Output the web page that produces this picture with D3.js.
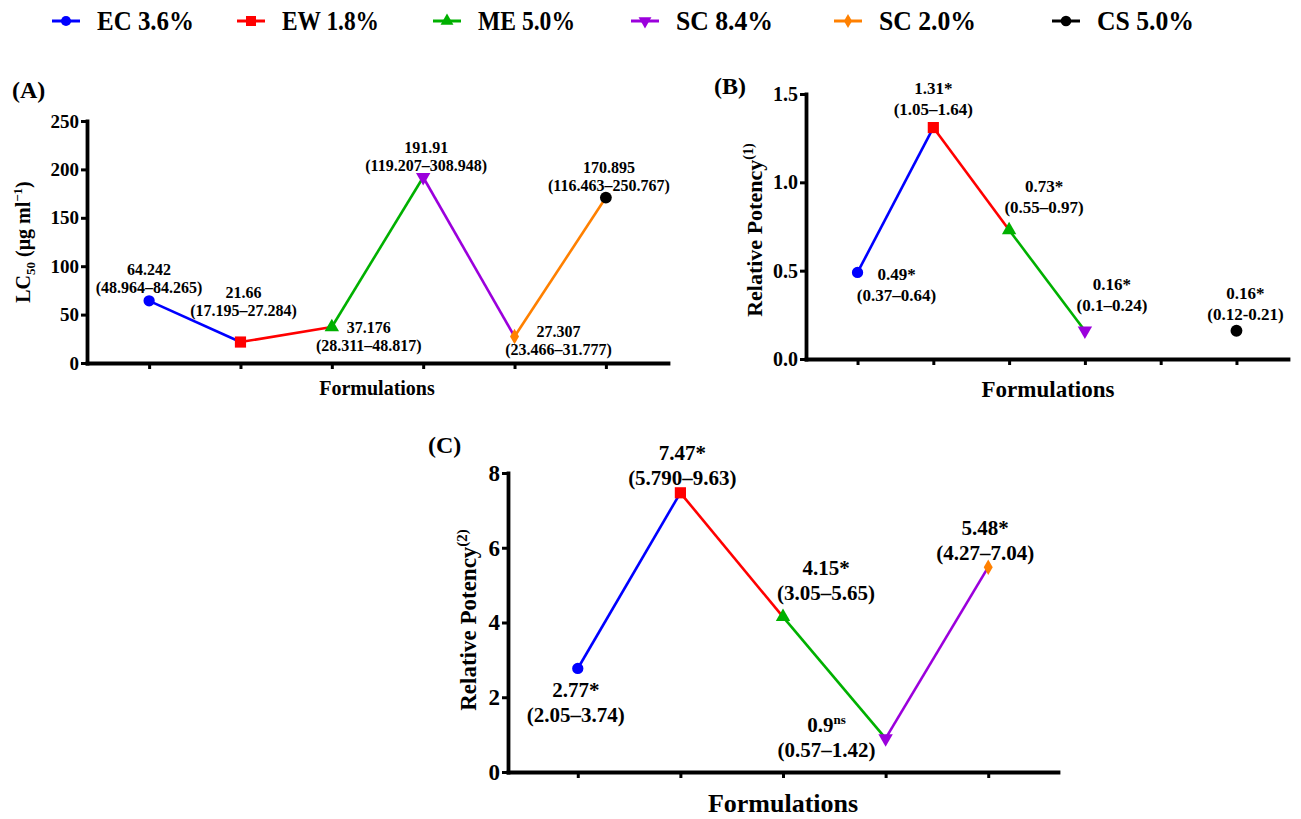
<!DOCTYPE html>
<html lang="en">
  <head>
    <meta charset="UTF-8" />
    <title>LC50 and relative potency</title>
    <style>
      body { margin: 0; background: #fff; }
      svg { display: block; }
      text { font-family: "Liberation Serif", "Times New Roman", "DejaVu Serif", serif; font-weight: bold; fill: #000; }
    </style>
  </head>
  <body>
    <svg id="chart" width="1301" height="819"></svg>

    <script src="https://d3js.org/d3.v7.min.js"></script>
    <script>
      // formulations and series colours
      const formulations = ["EC 3.6%", "EW 1.8%", "ME 5.0%", "SC 8.4%", "SC 2.0%", "CS 5.0%"];
      const colors = ["#0000ff", "#ff0000", "#00b000", "#9b00dc", "#ff8000", "#000000"];

      // (A) LC50
      const lc50 = [64.242, 21.66, 37.176, 191.91, 27.307, 170.895];
      const lc50CI = ["(48.964–84.265)", "(17.195–27.284)", "(28.311–48.817)", "(119.207–308.948)", "(23.466–31.777)", "(116.463–250.767)"];
      const lc50Ticks = [0, 50, 100, 150, 200, 250];

      // (B) relative potency (1) -- no value for SC 2.0%
      const rp1 = [0.49, 1.31, 0.73, 0.16, null, 0.16];
      const rp1Sig = ["*", "*", "*", "*", null, "*"];
      const rp1CI = ["(0.37–0.64)", "(1.05–1.64)", "(0.55–0.97)", "(0.1–0.24)", null, "(0.12-0.21)"];
      const rp1Ticks = [0, 0.5, 1.0, 1.5];

      // (C) relative potency (2) -- first five formulations
      const rp2 = [2.77, 7.47, 4.15, 0.9, 5.48];
      const rp2Sig = ["*", "*", "*", "ns", "*"];
      const rp2CI = ["(2.05–3.74)", "(5.790–9.63)", "(3.05–5.65)", "(0.57–1.42)", "(4.27–7.04)"];
      const rp2Ticks = [0, 2, 4, 6, 8];

      const symbols = [
        { type: d3.symbolCircle, size: 100, rot: 0 },
        { type: d3.symbolSquare, size: 125, rot: 0 },
        { type: d3.symbolTriangle, size: 90, rot: 0 },
        { type: d3.symbolTriangle, size: 90, rot: 180 },
        { type: d3.symbolDiamond, size: 70, rot: 0 },
        { type: d3.symbolCircle, size: 110, rot: 0 }
      ];

      const svg = d3.select("#chart");

      // legend
      const legendX = [66, 251, 447, 645, 848, 1066];
      const legend = svg.append("g");
      formulations.forEach((f, i) => {
        const g = legend.append("g").attr("transform", `translate(${legendX[i]},21)`);
        g.append("line").attr("x1", -14).attr("x2", 14)
          .attr("stroke", colors[i]).attr("stroke-width", 3);
        g.append("path")
          .attr("d", d3.symbol().type(symbols[i].type).size(symbols[i].size * 0.8)())
          .attr("transform", `rotate(${symbols[i].rot})`)
          .attr("fill", colors[i]);
        g.append("text").attr("x", 31).attr("y", 9)
          .attr("textLength", 97).attr("lengthAdjust", "spacingAndGlyphs")
          .style("font-size", "27px").text(f);
      });

      const panels = [
        {
          name: "(A)", nameX: 12, nameY: 98,
          values: lc50, sig: lc50.map(() => ""), ci: lc50CI,
          n: 6, xRange: [87, 668], yRange: [363, 121], yDomain: [0, 250],
          yTicks: lc50Ticks, fmt: d3.format("d"), tickFont: 19,
          labelFont: 16, gap: 18,
          offsets: [[0, -26], [3, -44], [37, 6], [3, -24], [44, 0], [3, -25]],
          yTitle: ["LC", "50", " (μg ml", "−1", ")"], yTitleX: 30, yTitleY: 242, yTitleFont: 20,
          xTitleX: 377, xTitleY: 395, xTitleFont: 20
        },
        {
          name: "(B)", nameX: 714, nameY: 94,
          values: rp1, sig: rp1Sig, ci: rp1CI,
          n: 6, xRange: [806, 1288], yRange: [359, 94], yDomain: [0, 1.5],
          yTicks: rp1Ticks, fmt: d3.format(".1f"), tickFont: 20,
          labelFont: 17, gap: 21,
          offsets: [[39, 8], [0, -34], [35, -38], [27, -41], [0, 0], [9, -32]],
          yTitle: ["Relative Potency", "(1)"], yTitleX: 762, yTitleY: 230, yTitleFont: 22,
          xTitleX: 1048, xTitleY: 397, xTitleFont: 23
        },
        {
          name: "(C)", nameX: 428, nameY: 453,
          values: rp2, sig: rp2Sig, ci: rp2CI,
          n: 5, xRange: [508, 1058], yRange: [772, 473], yDomain: [0, 8],
          yTicks: rp2Ticks, fmt: d3.format("d"), tickFont: 23,
          labelFont: 21, gap: 25,
          offsets: [[-2, 29], [2, -33], [43, -42], [-59, -6], [-3, -32]],
          yTitle: ["Relative Potency", "(2)"], yTitleX: 476, yTitleY: 620, yTitleFont: 23,
          xTitleX: 783, xTitleY: 812, xTitleFont: 26
        }
      ];

      panels.forEach(p => {
        const cats = formulations.slice(0, p.n);
        const x = d3.scalePoint().domain(cats).range(p.xRange).padding(0.68);
        const y = d3.scaleLinear().domain(p.yDomain).range(p.yRange);
        const g = svg.append("g");

        // axes
        const yAxis = g.append("g").attr("transform", `translate(${p.xRange[0]},0)`)
          .call(d3.axisLeft(y).tickValues(p.yTicks).tickFormat(p.fmt)
            .tickSize(6).tickPadding(2).tickSizeOuter(0));
        const xAxis = g.append("g").attr("transform", `translate(0,${p.yRange[0]})`)
          .call(d3.axisBottom(x).tickFormat("").tickSize(6).tickSizeOuter(0));
        [xAxis, yAxis].forEach(a => {
          a.attr("font-family", null);
          a.select(".domain").attr("stroke-width", 3.8).attr("stroke-linecap", "square");
          a.selectAll(".tick line").attr("stroke-width", 3);
        });
        yAxis.selectAll(".tick text")
          .style("font-size", p.tickFont + "px");

        // segments coloured by the starting formulation
        const pts = cats.map((c, i) => ({ i, c, v: p.values[i] }));
        for (let i = 0; i < pts.length - 1; i++) {
          if (pts[i].v == null || pts[i + 1].v == null) continue;
          g.append("line")
            .attr("x1", x(pts[i].c)).attr("y1", y(pts[i].v))
            .attr("x2", x(pts[i + 1].c)).attr("y2", y(pts[i + 1].v))
            .attr("stroke", colors[i]).attr("stroke-width", 2.6);
        }

        // markers
        g.selectAll(".mk").data(pts.filter(d => d.v != null)).enter()
          .append("path")
          .attr("d", d => d3.symbol().type(symbols[d.i].type).size(symbols[d.i].size)())
          .attr("transform", d => `translate(${x(d.c)},${y(d.v)}) rotate(${symbols[d.i].rot})`)
          .attr("fill", d => colors[d.i]);

        // value + confidence interval labels
        pts.filter(d => d.v != null).forEach(d => {
          const [dx, dy] = p.offsets[d.i];
          const cx = x(d.c) + dx, cy = y(d.v) + dy;
          const t = g.append("text").attr("x", cx).attr("y", cy)
            .attr("text-anchor", "middle").style("font-size", p.labelFont + "px");
          t.append("tspan").text(String(d.v));
          const s = p.sig[d.i];
          if (s === "ns") {
            t.append("tspan").attr("dy", -p.labelFont * 0.4)
              .style("font-size", p.labelFont * 0.62 + "px").text("ns");
          } else if (s) {
            t.append("tspan").text(s);
          }
          g.append("text").attr("x", cx).attr("y", cy + p.gap)
            .attr("text-anchor", "middle").style("font-size", p.labelFont + "px")
            .text(p.ci[d.i]);
        });

        // titles
        g.append("text").attr("x", p.nameX).attr("y", p.nameY)
          .style("font-size", "24px").text(p.name);
        g.append("text").attr("x", p.xTitleX).attr("y", p.xTitleY)
          .attr("text-anchor", "middle").style("font-size", p.xTitleFont + "px")
          .text("Formulations");

        const yt = g.append("text")
          .attr("transform", `translate(${p.yTitleX},${p.yTitleY}) rotate(-90)`)
          .attr("text-anchor", "middle").style("font-size", p.yTitleFont + "px");
        const f = p.yTitleFont;
        if (p.yTitle.length === 5) {
          yt.append("tspan").text(p.yTitle[0]);
          yt.append("tspan").attr("dy", f * 0.25).style("font-size", f * 0.65 + "px").text(p.yTitle[1]);
          yt.append("tspan").attr("dy", -f * 0.25).text(p.yTitle[2]);
          yt.append("tspan").attr("dy", -f * 0.4).style("font-size", f * 0.65 + "px").text(p.yTitle[3]);
          yt.append("tspan").attr("dy", f * 0.4).text(p.yTitle[4]);
        } else {
          yt.append("tspan").text(p.yTitle[0]);
          yt.append("tspan").attr("dy", -f * 0.4).style("font-size", f * 0.65 + "px").text(p.yTitle[1]);
        }
      });
    </script>
  </body>
</html>
